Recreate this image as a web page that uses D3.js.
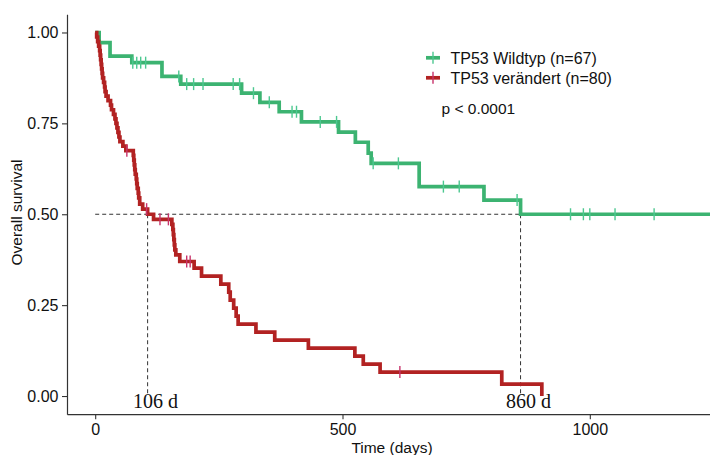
<!DOCTYPE html>
<html>
<head>
<meta charset="utf-8">
<script src="https://cdn.jsdelivr.net/npm/d3@7"></script>
<style>
  html, body { margin: 0; padding: 0; background: #fff; }
  svg { display: block; }
</style>
</head>
<body>
<svg id="chart" width="710" height="455"></svg>
<script>
// ---- data ----
const seriesNames = ["TP53 Wildtyp (n=67)", "TP53 verändert (n=80)"];
const seriesColors = ["#3cb371", "#b22222"];
const censorColors = ["#4cc890", "#c8336b"];

// TP53 Wildtyp: event times (days) and survival after each step
const wildTimes = [0, 8, 30, 74, 135, 173, 296, 333, 372, 417, 492, 526, 552, 558, 655, 786, 860, 1243];
const wildSurv  = [1, 0.972, 0.935, 0.917, 0.879, 0.858, 0.833, 0.808, 0.782, 0.754, 0.726, 0.698, 0.668, 0.640, 0.576, 0.539, 0.5, 0.5];
const wildCensor = [76, 84, 92, 102, 169, 185, 199, 218, 279, 292, 320, 352, 398, 407, 455, 488, 562, 613, 704, 736, 853, 961, 987, 1000, 1051, 1130];

// TP53 verändert
const mutTimes = [0, 3, 5, 7, 9, 10, 11, 12, 13, 14, 15, 17, 19, 20, 22, 26, 31, 33, 37, 40, 42, 44, 46, 48, 50, 56, 62,
                  77, 78, 79, 80, 81, 83, 84, 85, 87, 88, 90, 96, 106, 118,
                  155, 157, 158, 159, 160, 161, 163, 171, 200, 215, 254, 270, 273, 280, 285, 289,
                  325, 363, 431, 525, 542, 576, 822, 903];
const mutSurv  = [1, 0.9875, 0.975, 0.9625, 0.95, 0.9375, 0.925, 0.9125, 0.9, 0.8875, 0.875, 0.8625, 0.85, 0.8375, 0.825, 0.8125, 0.8, 0.7875, 0.775, 0.7625, 0.75, 0.7375, 0.725, 0.7125, 0.7, 0.6875, 0.675,
                  0.662, 0.649, 0.636, 0.623, 0.610, 0.597, 0.584, 0.571, 0.558, 0.545, 0.528, 0.514, 0.5, 0.486,
                  0.472, 0.458, 0.444, 0.430, 0.416, 0.402, 0.388, 0.370, 0.352, 0.330, 0.308, 0.286, 0.264, 0.242, 0.220, 0.198,
                  0.176, 0.154, 0.132, 0.110, 0.088, 0.066, 0.033, 0];
const mutCensor = [64, 104, 131, 148, 185, 192, 616];

const medianTimes = [106, 860];
const medianLabels = ["106 d", "860 d"];
const yTicks = [0, 0.25, 0.5, 0.75, 1];
const xTicks = [0, 500, 1000];
const pLabel = "p < 0.0001";
const xTitle = "Time (days)";
const yTitle = "Overall survival";

// ---- layout ----
const svg = d3.select("#chart");
const x = d3.scaleLinear().domain([-57, 1243]).range([67, 710]);
const y = d3.scaleLinear().domain([-0.05, 1.05]).range([414.2, 14.3]);

const series = [
  {times: wildTimes, surv: wildSurv, censor: wildCensor},
  {times: mutTimes, surv: mutSurv, censor: mutCensor}
];
function survAt(s, t) {
  const i = d3.bisectRight(s.times, t) - 1;
  return s.surv[Math.max(0, i)];
}

// median dashed lines
const dash = svg.append("g").attr("stroke", "#333").attr("stroke-width", 1).attr("stroke-dasharray", "4,3").attr("fill", "none");
dash.append("line")
  .attr("x1", x(0)).attr("x2", x(d3.max(medianTimes)))
  .attr("y1", y(0.5)).attr("y2", y(0.5));
medianTimes.forEach(t => {
  dash.append("line").attr("x1", x(t)).attr("x2", x(t)).attr("y1", y(0.5)).attr("y2", y(0));
});

// curves
const line = d3.line().x(d => x(d[0])).y(d => y(d[1])).curve(d3.curveStepAfter);
series.forEach((s, k) => {
  svg.append("path")
    .datum(s.times.map((t, i) => [t, s.surv[i]]))
    .attr("fill", "none")
    .attr("stroke", seriesColors[k])
    .attr("stroke-width", 3.7)
    .attr("d", line);
});
// censor marks
series.forEach((s, k) => {
  svg.append("g").selectAll("line").data(s.censor).join("line")
    .attr("x1", d => x(d)).attr("x2", d => x(d))
    .attr("y1", d => y(survAt(s, d)) - 6).attr("y2", d => y(survAt(s, d)) + 6)
    .attr("stroke", censorColors[k]).attr("stroke-width", 1.4);
});

// median labels
medianTimes.forEach((t, i) => {
  svg.append("text")
    .attr("x", x(t) + 8).attr("y", 408)
    .attr("text-anchor", "middle")
    .attr("font-family", "'Liberation Serif', 'DejaVu Serif', serif")
    .attr("font-size", 20).attr("fill", "#111")
    .text(medianLabels[i]);
});

// axes
const yAxis = svg.append("g").attr("transform", "translate(67,0)")
  .call(d3.axisLeft(y).tickValues(yTicks).tickFormat(d3.format(".2f")).tickSize(5).tickSizeOuter(0).tickPadding(3.5));
const xAxis = svg.append("g").attr("transform", "translate(0,414.2)")
  .call(d3.axisBottom(x).tickValues(xTicks).tickFormat(d3.format("d")).tickSize(5).tickSizeOuter(0).tickPadding(4.6));
[yAxis, xAxis].forEach(a => {
  a.select(".domain").attr("stroke", "#333").attr("stroke-width", 1.2);
  a.selectAll(".tick line").attr("stroke", "#333").attr("stroke-width", 1.1);
  a.selectAll(".tick text").attr("font-family", "'Liberation Sans', Arial, sans-serif").attr("font-size", 16).attr("fill", "#111");
});

// axis titles
svg.append("text").attr("x", 392).attr("y", 452.5).attr("text-anchor", "middle")
  .attr("font-family", "'Liberation Sans', Arial, sans-serif").attr("font-size", 15.5).attr("fill", "#111")
  .text(xTitle);
svg.append("text").attr("transform", "translate(22,212.5) rotate(-90)").attr("text-anchor", "middle")
  .attr("font-family", "'Liberation Sans', Arial, sans-serif").attr("font-size", 15.5).attr("fill", "#111")
  .text(yTitle);

// legend
const legY = [57.8, 77.8];
seriesNames.forEach((name, k) => {
  const g = svg.append("g");
  g.append("line").attr("x1", 426).attr("x2", 440).attr("y1", legY[k]).attr("y2", legY[k])
    .attr("stroke", seriesColors[k]).attr("stroke-width", 3.7);
  g.append("line").attr("x1", 433).attr("x2", 433).attr("y1", legY[k] - 6).attr("y2", legY[k] + 6)
    .attr("stroke", censorColors[k]).attr("stroke-width", 1.4);
  g.append("text").attr("x", 450.5).attr("y", legY[k] + 6)
    .attr("font-family", "'Liberation Sans', Arial, sans-serif").attr("font-size", 16).attr("fill", "#111")
    .text(name);
});
svg.append("text").attr("x", 441.5).attr("y", 113.5)
  .attr("font-family", "'Liberation Sans', Arial, sans-serif").attr("font-size", 15.5).attr("fill", "#111")
  .text(pLabel);
</script>
</body>
</html>
